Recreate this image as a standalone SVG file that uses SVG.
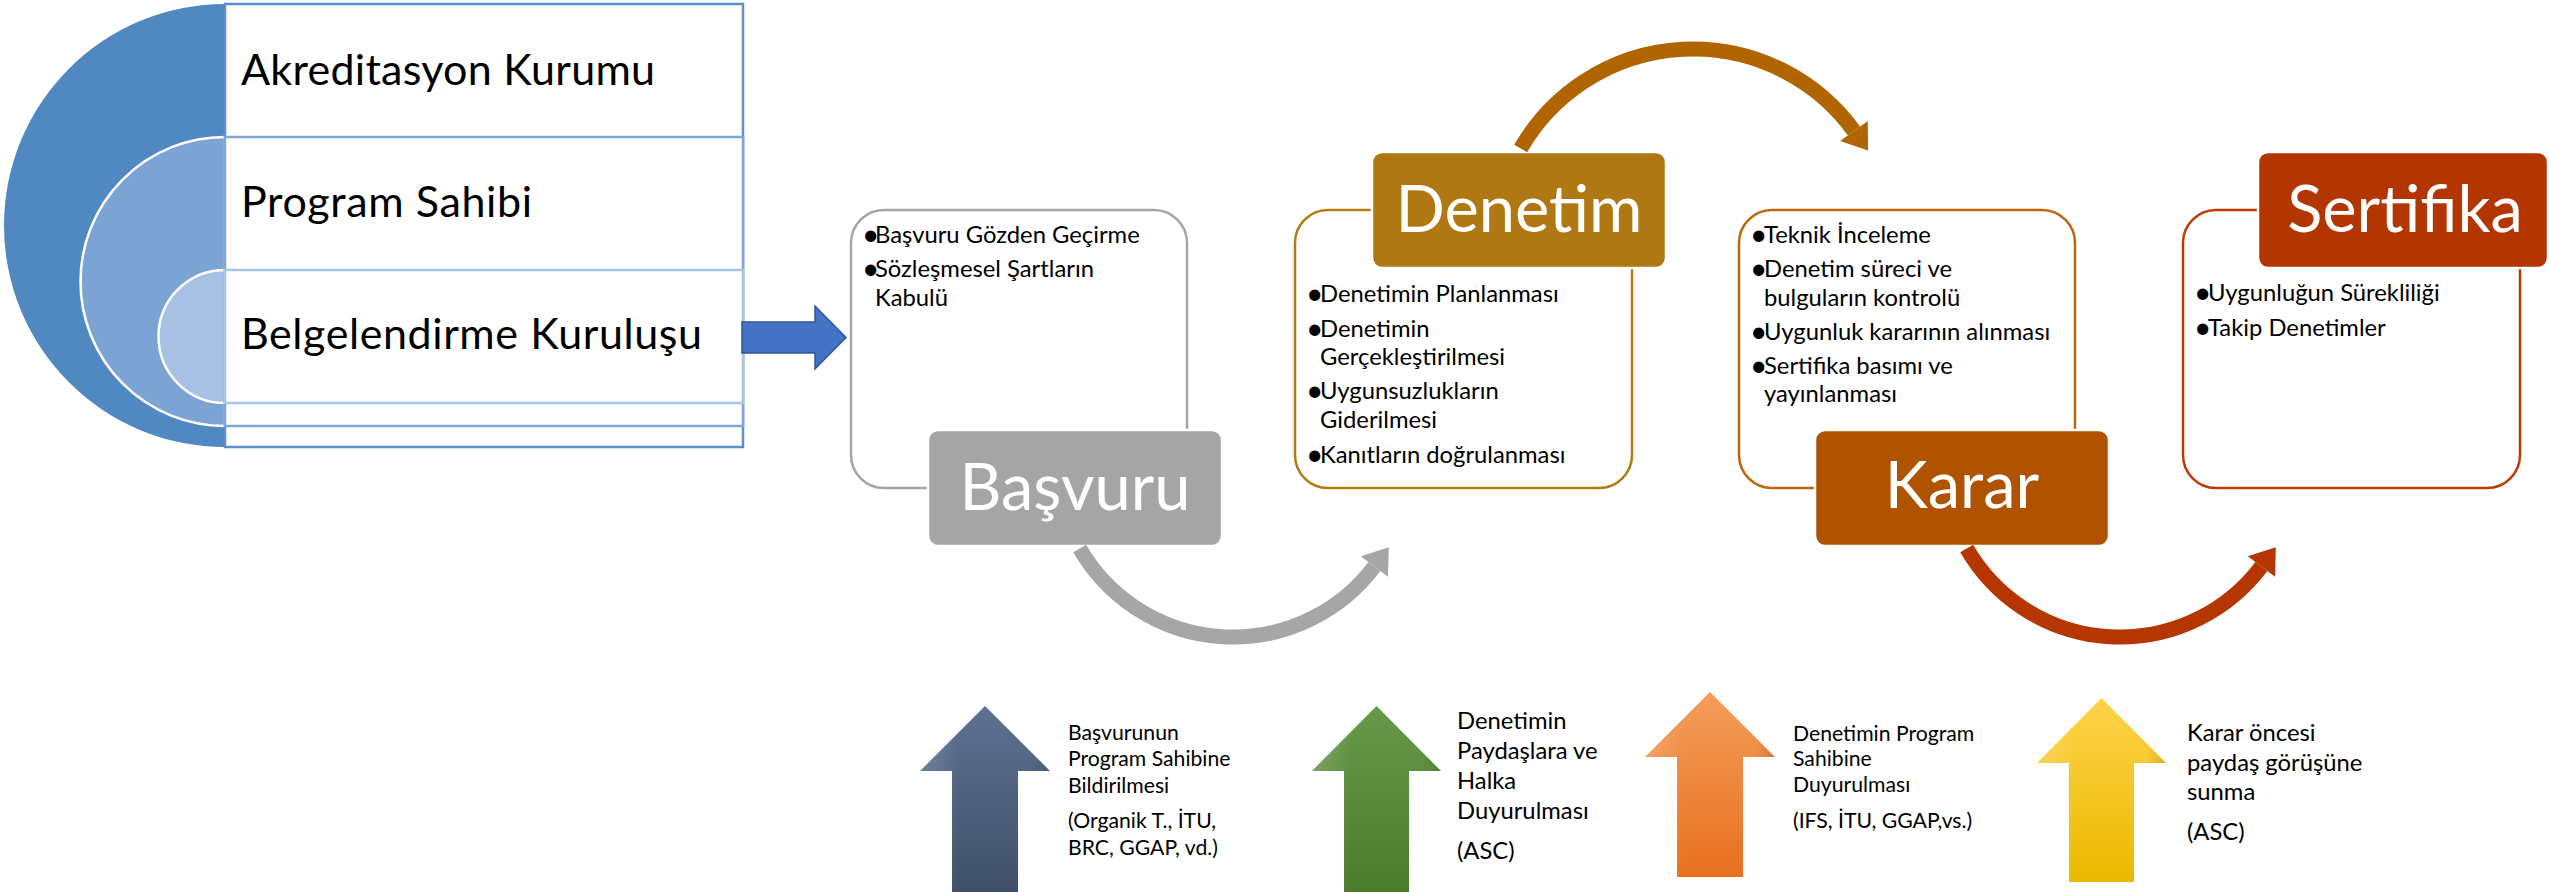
<svg xmlns="http://www.w3.org/2000/svg" width="2549" height="892" viewBox="0 0 2549 892">
<defs>
<style>
text{font-family:Lato,"Open Sans","Liberation Sans",sans-serif;fill:#000}
.t1{font-size:43px}
.lbl{font-size:65px;fill:#fff;text-anchor:middle}
.b{font-size:23.8px}
.d{font-size:30px}
.s1{font-size:21.2px}
.s2{font-size:23.8px}
.box{fill:#fff;stroke-width:2.5}
.tag{stroke:#fff;stroke-width:2.5}
.conn{fill:none;stroke-width:15}
</style>
<linearGradient id="gDark" x1="0" y1="0" x2="0" y2="1"><stop offset="0" stop-color="#5D7192"/><stop offset="1" stop-color="#3F5068"/></linearGradient>
<linearGradient id="gGreen" x1="0" y1="0" x2="0" y2="1"><stop offset="0" stop-color="#67994A"/><stop offset="1" stop-color="#4A7C2C"/></linearGradient>
<linearGradient id="gOrange" x1="0" y1="0" x2="0" y2="1"><stop offset="0" stop-color="#F49D5B"/><stop offset="1" stop-color="#E8701E"/></linearGradient>
<linearGradient id="gYellow" x1="0" y1="0" x2="0" y2="1"><stop offset="0" stop-color="#FFD34A"/><stop offset="1" stop-color="#EBB800"/></linearGradient>
<linearGradient id="bevel" x1="0" y1="0" x2="1" y2="0"><stop offset="0" stop-color="#fff" stop-opacity="0.18"/><stop offset="0.3" stop-color="#fff" stop-opacity="0"/><stop offset="0.85" stop-color="#000" stop-opacity="0"/><stop offset="1" stop-color="#000" stop-opacity="0.12"/></linearGradient>
</defs>
<rect width="2549" height="892" fill="#fff"/>

<g id="nested-list">
<path d="M225,4 A221,221.5 0 0 0 225,447 Z" fill="#5089C2"/>
<path d="M225,137 A144.5,144.5 0 0 0 225,426 Z" fill="#7BA3D3" stroke="#fff" stroke-width="2.5"/>
<path d="M225,270 A66.5,66.5 0 0 0 225,403 Z" fill="#A6C1E4" stroke="#fff" stroke-width="2.5"/>
<g id="akreditasyon-kurumu">
<rect x="225" y="4" width="518" height="443" fill="#fff" stroke="#5B8FCB" stroke-width="2.5"/>
<text class="t1" x="241" y="85" textLength="414" lengthAdjust="spacing">Akreditasyon Kurumu</text>
</g>
<g id="program-sahibi">
<rect x="225" y="137" width="518" height="289" fill="#fff" stroke="#7DA7D8" stroke-width="2.5"/>
<text class="t1" x="241" y="217" textLength="291" lengthAdjust="spacing">Program Sahibi</text>
</g>
<g id="belgelendirme-kurulusu">
<rect x="225" y="270" width="518" height="133" fill="#fff" stroke="#A9C4E6" stroke-width="2.5"/>
<text class="t1" x="241" y="349" textLength="461" lengthAdjust="spacing">Belgelendirme Kuruluşu</text>
</g>
</g>

<g id="basvuru">
<rect class="box" x="851" y="210" width="336" height="278" rx="33" stroke="#A5A5A5"/>
<text class="d" x="862" y="245">•</text><text class="b" x="875" y="243">Başvuru Gözden Geçirme</text>
<text class="d" x="862" y="279">•</text><text class="b" x="875" y="277">Sözleşmesel Şartların</text>
<text class="b" x="875" y="306">Kabulü</text>
<rect class="tag" x="928" y="430" width="294" height="116" rx="10" fill="#A5A5A5"/>
<text class="lbl" x="1075" y="510">Başvuru</text>
</g>

<g id="denetim">
<rect class="box" x="1295" y="210" width="337" height="278" rx="33" stroke="#B27C14"/>
<text class="d" x="1306" y="304">•</text><text class="b" x="1320" y="302">Denetimin Planlanması</text>
<text class="d" x="1306" y="339">•</text><text class="b" x="1320" y="337">Denetimin</text>
<text class="b" x="1320" y="365">Gerçekleştirilmesi</text>
<text class="d" x="1306" y="401">•</text><text class="b" x="1320" y="399">Uygunsuzlukların</text>
<text class="b" x="1320" y="428">Giderilmesi</text>
<text class="d" x="1306" y="465">•</text><text class="b" x="1320" y="463">Kanıtların doğrulanması</text>
<rect class="tag" x="1372" y="152" width="294" height="116" rx="10" fill="#AF7812"/>
<text class="lbl" x="1519" y="232">Denetim</text>
</g>

<g id="karar">
<rect class="box" x="1739" y="210" width="336" height="278" rx="33" stroke="#BF640F"/>
<text class="d" x="1750" y="245">•</text><text class="b" x="1764" y="243">Teknik İnceleme</text>
<text class="d" x="1750" y="279">•</text><text class="b" x="1764" y="277">Denetim süreci ve</text>
<text class="b" x="1764" y="306">bulguların kontrolü</text>
<text class="d" x="1750" y="342">•</text><text class="b" x="1764" y="340">Uygunluk kararının alınması</text>
<text class="d" x="1750" y="376">•</text><text class="b" x="1764" y="374">Sertifika basımı ve</text>
<text class="b" x="1764" y="402">yayınlanması</text>
<rect class="tag" x="1815" y="430" width="294" height="116" rx="10" fill="#AF5300"/>
<text class="lbl" x="1962" y="508">Karar</text>
</g>

<g id="sertifika">
<rect class="box" x="2183" y="210" width="337" height="278" rx="33" stroke="#BC3B04"/>
<text class="d" x="2194" y="303">•</text><text class="b" x="2208" y="301">Uygunluğun Sürekliliği</text>
<text class="d" x="2194" y="338">•</text><text class="b" x="2208" y="336">Takip Denetimler</text>
<rect class="tag" x="2258" y="152" width="290" height="116" rx="10" fill="#B33500"/>
<text class="lbl" x="2405" y="232">Sertifika</text>
</g>

<g id="connectors">
<path id="arrow-list-to-basvuru" d="M742,322 H815 V306 L846,337.5 L815,369 V353 H742 Z" fill="#4472C4" stroke="#2F5597" stroke-width="1.5"/>
<path class="conn" d="M1079.7,548.5 A177,177 0 0 0 1374.4,566.5" stroke="#A6A6A6"/>
<polygon points="1388.8,547.3 1388,576.7 1360.8,556.3" fill="#A6A6A6"/>
<path class="conn" d="M1520.7,148.5 A199,199 0 0 1 1854,131" stroke="#B06500" stroke-width="14"/>
<polygon points="1868,150.4 1867.8,121 1840.2,141" fill="#B06500"/>
<path class="conn" d="M1966.7,548.5 A177,177 0 0 0 2261.4,566.5" stroke="#B53600"/>
<polygon points="2275.8,547.3 2275,576.7 2247.8,556.3" fill="#B53600"/>
</g>

<g id="note-basvuru">
<path d="M985,706 L1050,771 L1018,771 L1018,892 L952,892 L952,771 L920,771 Z" fill="url(#gDark)"/>
<path d="M985,706 L1050,771 L1018,771 L1018,892 L952,892 L952,771 L920,771 Z" fill="url(#bevel)"/>
<text class="s1" x="1068" y="740">Başvurunun</text>
<text class="s1" x="1068" y="766">Program Sahibine</text>
<text class="s1" x="1068" y="793">Bildirilmesi</text>
<text class="s1" x="1068" y="828">(Organik T., İTU,</text>
<text class="s1" x="1068" y="855">BRC, GGAP, vd.)</text>
</g>

<g id="note-denetim">
<path d="M1376.5,706 L1441,771 L1409,771 L1409,892 L1344,892 L1344,771 L1312,771 Z" fill="url(#gGreen)"/>
<path d="M1376.5,706 L1441,771 L1409,771 L1409,892 L1344,892 L1344,771 L1312,771 Z" fill="url(#bevel)"/>
<text class="s2" x="1457" y="729">Denetimin</text>
<text class="s2" x="1457" y="759">Paydaşlara ve</text>
<text class="s2" x="1457" y="789">Halka</text>
<text class="s2" x="1457" y="819">Duyurulması</text>
<text class="s2" x="1457" y="859">(ASC)</text>
</g>

<g id="note-program">
<path d="M1710,692 L1775,757 L1743,757 L1743,877 L1677,877 L1677,757 L1645,757 Z" fill="url(#gOrange)"/>
<path d="M1710,692 L1775,757 L1743,757 L1743,877 L1677,877 L1677,757 L1645,757 Z" fill="url(#bevel)"/>
<text class="s1" x="1793" y="741">Denetimin Program</text>
<text class="s1" x="1793" y="766">Sahibine</text>
<text class="s1" x="1793" y="792">Duyurulması</text>
<text class="s1" x="1793" y="828">(IFS, İTU, GGAP,vs.)</text>
</g>

<g id="note-karar">
<path d="M2101.5,698 L2166,763 L2134,763 L2134,882 L2069,882 L2069,763 L2037,763 Z" fill="url(#gYellow)"/>
<path d="M2101.5,698 L2166,763 L2134,763 L2134,882 L2069,882 L2069,763 L2037,763 Z" fill="url(#bevel)"/>
<text class="s2" x="2187" y="741">Karar öncesi</text>
<text class="s2" x="2187" y="771">paydaş görüşüne</text>
<text class="s2" x="2187" y="800">sunma</text>
<text class="s2" x="2187" y="840">(ASC)</text>
</g>
</svg>
